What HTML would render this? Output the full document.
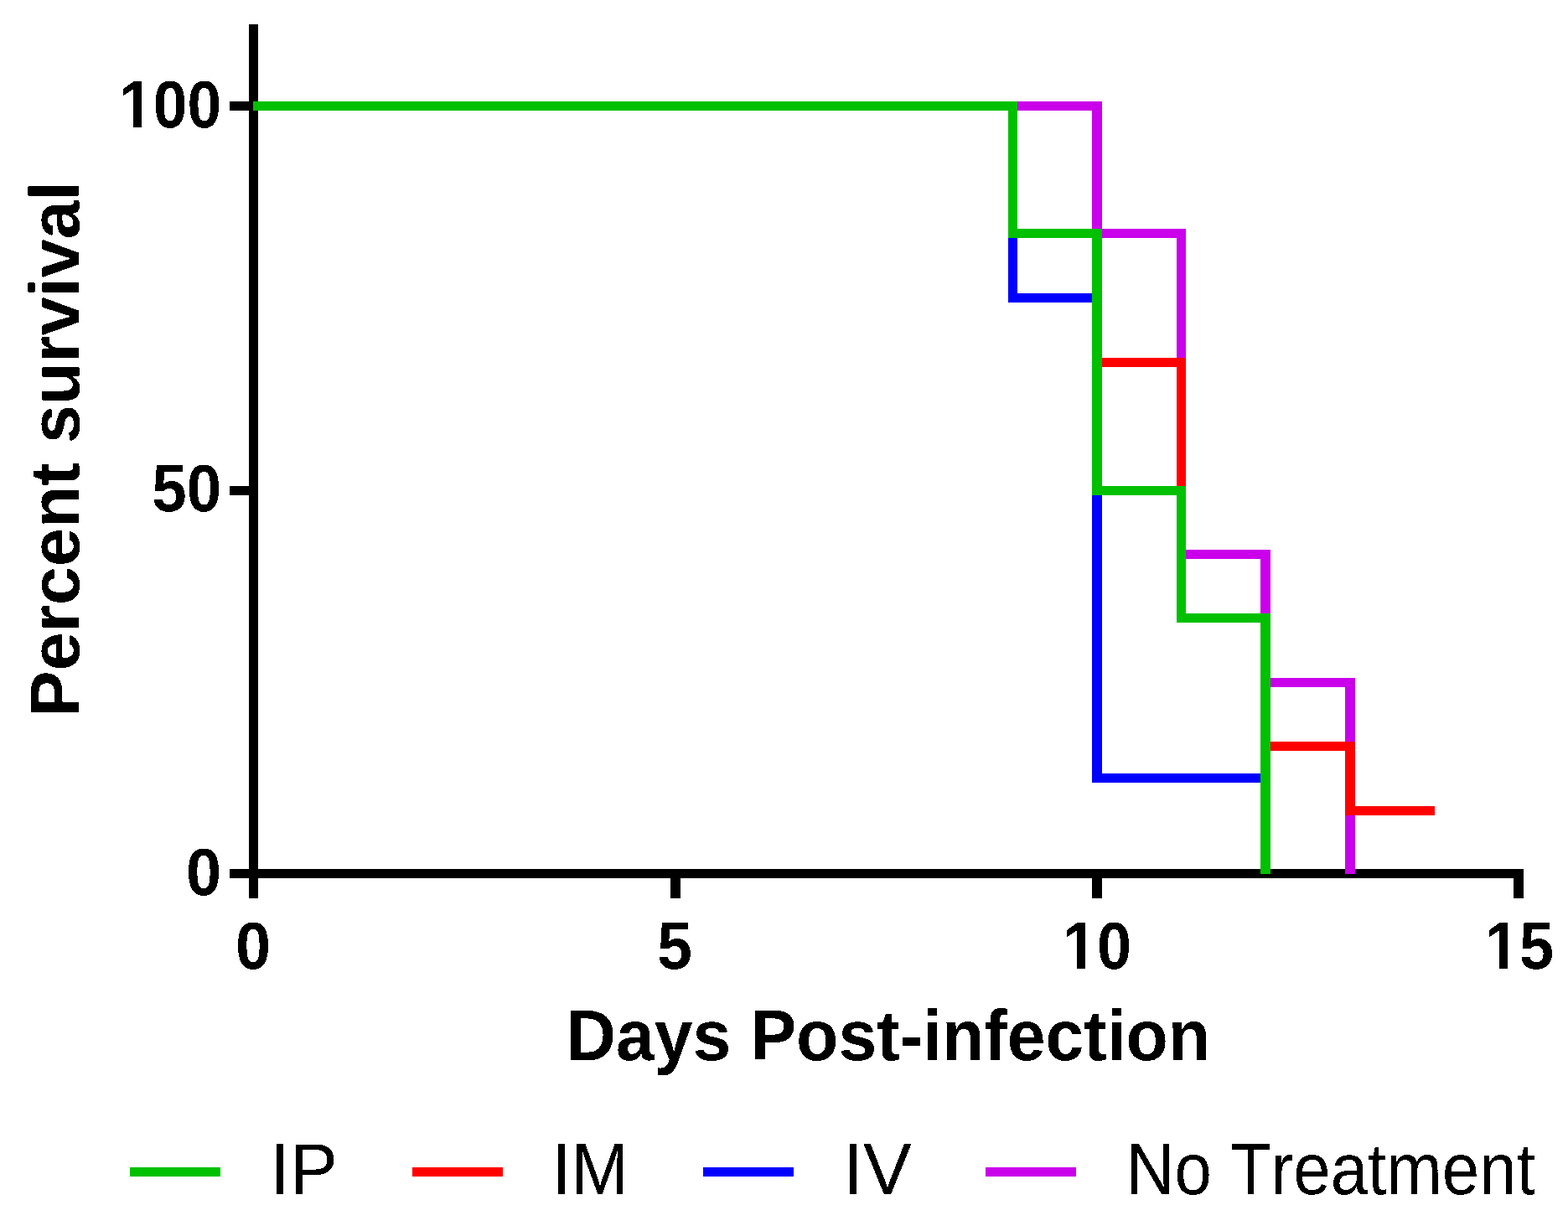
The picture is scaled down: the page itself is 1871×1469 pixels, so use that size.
<!DOCTYPE html>
<html><head><meta charset="utf-8"><style>
html,body{margin:0;padding:0;background:#fff;}
svg{display:block;}
text{font-family:"Liberation Sans",Arial,sans-serif;fill:#000;font-kerning:none;}
.b{font-weight:bold;}
</style></head><body>
<svg width="1871" height="1469" viewBox="0 0 1871 1469">
<rect width="1871" height="1469" fill="#fff"/>
<path fill="#000" d="M297 29H308V1072H297Z M274 1037H1818V1048H274Z M274 121H297V132H274Z M274 580H297V591H274Z M800 1048H812V1072H800Z M1303 1048H1315V1072H1303Z M1806 1048H1818V1072H1806Z"/>
<path fill="#CA00EA" d="M302 121H1315V132H302Z M1303 121H1315V284H1303Z M1303 273H1415V284H1303Z M1404 273H1415V667H1404Z M1404 656H1516V667H1404Z M1504 656H1516V820H1504Z M1504 809H1617V820H1504Z M1605 809H1617V1043H1605Z"/>
<path fill="#FF0000" d="M302 121H1214V132H302Z M1203 121H1214V284H1203Z M1203 273H1315V284H1203Z M1303 273H1315V438H1303Z M1303 427H1415V438H1303Z M1404 427H1415V743H1404Z M1404 732H1516V743H1404Z M1504 732H1516V896H1504Z M1504 885H1617V896H1504Z M1605 885H1617V973H1605Z M1605 962H1712V973H1605Z"/>
<path fill="#0000FF" d="M302 121H1214V132H302Z M1203 121H1214V361H1203Z M1203 350H1315V361H1203Z M1303 350H1315V934H1303Z M1303 923H1516V934H1303Z M1504 923H1516V1043H1504Z"/>
<path fill="#00C000" d="M302 121H1214V132H302Z M1203 121H1214V284H1203Z M1203 273H1315V284H1203Z M1303 273H1315V591H1303Z M1303 580H1415V591H1303Z M1404 580H1415V743H1404Z M1404 732H1516V743H1404Z M1504 732H1516V1043H1504Z"/>
<defs><filter id="bin" x="-5%" y="-5%" width="110%" height="110%" color-interpolation-filters="sRGB"><feComponentTransfer><feFuncA type="discrete" tableValues="0 1"/></feComponentTransfer></filter></defs>
<g filter="url(#bin)">
<g transform="translate(264.120 151.995) scale(0.9886 1.0828)"><text clip-path="url(#c_t100)" class="b" font-size="74" text-anchor="end">100</text><clipPath id="c_t100"><path d="M-5000 -5000H5000V-9.029H-5000Z M-5000 1.478H5000V5000H-5000Z M-5000.000 -9.039H-120.214V1.488H-5000.000Z M-106.194 -9.039H-96.041V1.488H-106.194Z M-82.997 -9.039H5000.000V1.488H-82.997Z"/></clipPath></g>
<g transform="translate(264.231 609.995) scale(1.0070 1.0819)"><text class="b" font-size="74" text-anchor="end">50</text></g>
<g transform="translate(264.134 1068.399) scale(1.0239 1.0771)"><text class="b" font-size="74" text-anchor="end">0</text></g>
<g transform="translate(302.144 1156.399) scale(1.0239 1.0771)"><text class="b" font-size="74" text-anchor="middle">0</text></g>
<g transform="translate(805.175 1156.063) scale(1.0129 1.0647)"><text class="b" font-size="74" text-anchor="middle">5</text></g>
<g transform="translate(1308.981 1156.005) scale(0.9992 1.0717)"><text clip-path="url(#c_t10x)" class="b" font-size="74" text-anchor="middle">10</text><clipPath id="c_t10x"><path d="M-5000 -5000H5000V-9.045H-5000Z M-5000 1.493H5000V5000H-5000Z M-5000.000 -9.055H-37.903V1.503H-5000.000Z M-23.884 -9.055H-13.730V1.503H-23.884Z M-0.687 -9.055H5000.000V1.503H-0.687Z"/></clipPath></g>
<g transform="translate(1813.017 1156.350) scale(1.0000 1.0853)"><text clip-path="url(#c_t15x)" class="b" font-size="74" text-anchor="middle">15</text><clipPath id="c_t15x"><path d="M-5000 -5000H5000V-9.026H-5000Z M-5000 1.474H5000V5000H-5000Z M-5000.000 -9.036H-37.903V1.484H-5000.000Z M-23.884 -9.036H-13.730V1.484H-23.884Z M-0.687 -9.036H5000.000V1.484H-0.687Z"/></clipPath></g>
<g transform="translate(675.454 1264.690) scale(0.9983 1.0279)"><text class="b" font-size="82.5">Days Post-infection</text></g>
<g transform="translate(94.500 855.552) rotate(-90) scale(1.0029 1.0008)"><text class="b" font-size="82.5">Percent survival</text></g>
<g transform="translate(322.007 1425.078) scale(1.0457 1.0553)"><text font-size="82">IP</text></g>
<g transform="translate(658.680 1425.000) scale(1.0049 1.0714)"><text font-size="82">IM</text></g>
<g transform="translate(1005.922 1425.000) scale(1.0587 1.0714)"><text font-size="82">IV</text></g>
<g transform="translate(1343.756 1424.930) scale(0.9739 1.0700)"><text font-size="82">No Treatment</text></g>
</g>
<path fill="#00C000" d="M155 1393H263V1404H155Z"/><path fill="#FF0000" d="M492 1393H600V1404H492Z"/><path fill="#0000FF" d="M839 1393H947V1404H839Z"/><path fill="#CA00EA" d="M1176 1393H1284V1404H1176Z"/>
</svg>
</body></html>
